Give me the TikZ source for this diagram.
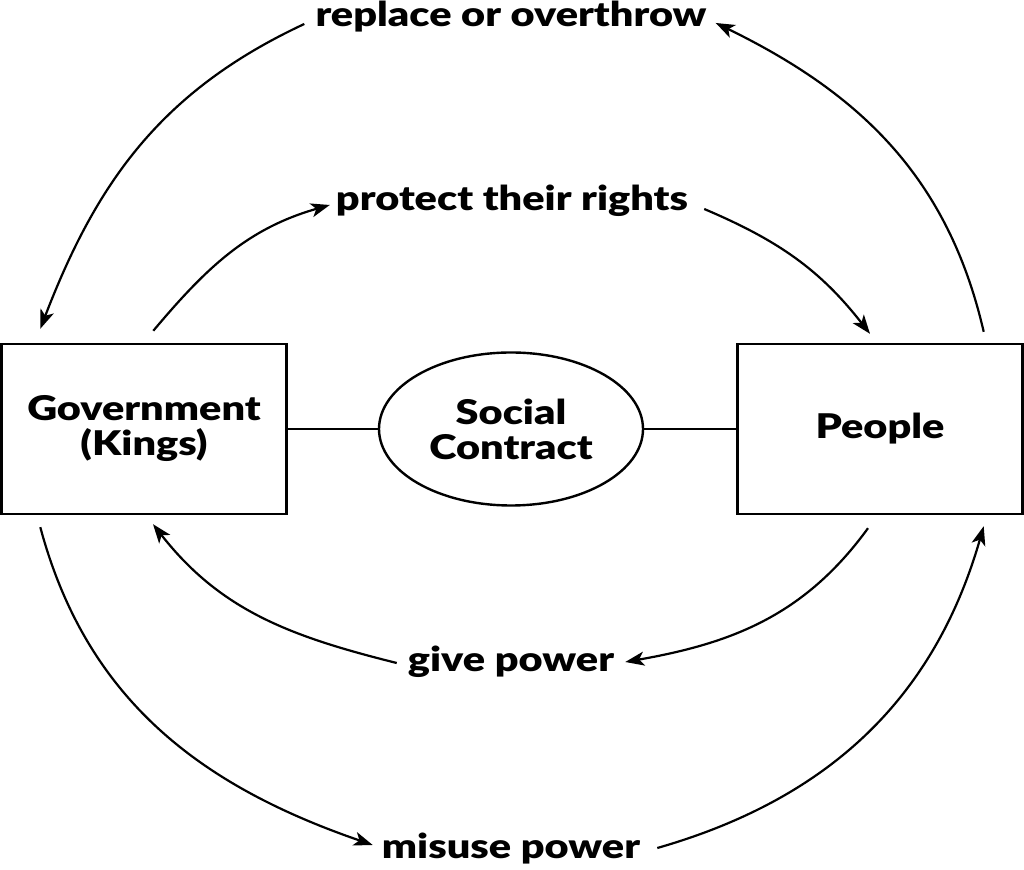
\documentclass[tikz,border=0pt]{standalone}
\usepackage{fontspec}
\setmainfont{Lato}[BoldFont={Lato Black}, BoldFeatures={FakeStretch=1.22}]
\usetikzlibrary{shapes.geometric,arrows.meta}

\begin{document}
\begin{tikzpicture}[x=1pt, y=1pt,
    kotak/.style={draw, line width=2.4pt, minimum width=285pt, minimum height=170pt, align=center, font=\fontsize{34}{35}\selectfont\bfseries},
    label/.style={inner sep=0pt, anchor=base, font=\fontsize{34}{35}\selectfont\bfseries},
    panah/.style={line width=2.2pt, -{Stealth[length=19pt, width=14pt, inset=5pt]}}]
    \useasboundingbox (0, 0) rectangle (1024, 869);

    % Kotak kiri, kanan dan elips tengah
    \node[kotak] (gov) at (144, 440) {Government\\(Kings)};
    \node[kotak] (ppl) at (880, 440) {People};
    \node[ellipse, draw, line width=2.4pt, minimum width=264pt, minimum height=153pt, inner sep=0pt, align=center, font=\fontsize{34}{35}\selectfont\bfseries] (sc) at (511, 440) {Social\\Contract};
    \draw[line width=2.4pt] (gov) -- (sc) -- (ppl);

    % Label di atas dan di bawah
    \node[label] (rep) at (511, 842) {replace or overthrow};
    \node[label] (pro) at (512, 658) {protect their rights};
    \node[label] (give) at (511, 197) {give power};
    \node[label] (mis) at (511, 10) {misuse power};

    % Panah atas
    \draw[panah] ([shift={(-11,3)}]rep.base west) to[out=205, in=69] ([shift={(40,14)}]gov.north west);
    \draw[panah] ([shift={(153,12)}]gov.north west) to[out=50, in=196] ([shift={(-6,6)}]pro.base west);
    \draw[panah] ([shift={(16,2)}]pro.base east) to[out=-23, in=128] ([shift={(-10,9)}]ppl.north);
    \draw[panah] ([shift={(-40,11)}]ppl.north east) to[out=103, in=-26] ([shift={(9,4)}]rep.base east);

    % Panah bawah
    \draw[panah] ([shift={(-12,-13)}]ppl.south) to[out=234, in=10] ([shift={(11,10)}]give.base east);
    \draw[panah] ([shift={(-11,9)}]give.base west) to[out=166, in=-52] ([shift={(9,-9)}]gov.south);
    \draw[panah] ([shift={(40,-12)}]gov.south west) to[out=285, in=161] ([shift={(-9,14)}]mis.base west);
    \draw[panah] ([shift={(17,11)}]mis.base east) to[out=16, in=254] ([shift={(-40,-11)}]ppl.south east);
\end{tikzpicture}
\end{document}
